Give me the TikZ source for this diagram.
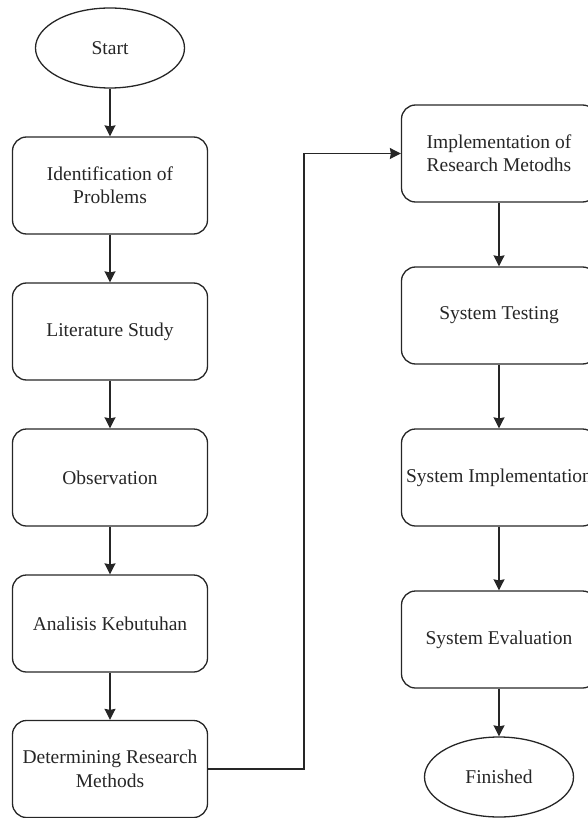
\documentclass[tikz,border=0pt]{standalone}
\usepackage{fontspec}
\setmainfont{Liberation Serif}
\usepackage{tikz}
\usetikzlibrary{shapes.geometric,arrows.meta}
\tikzset{
    stepbox/.style={
		draw=black!85, line width=1.3pt, rounded corners=14pt,
		minimum width=195pt, minimum height=97pt, align=center,
		font=\fontsize{19.5}{23.4}\selectfont, text=black!85
	}
}
\tikzset{
    terminal/.style={
		draw=black!85, line width=1.3pt, ellipse,
		minimum width=149pt, minimum height=80pt,
		font=\fontsize{19.5}{23.4}\selectfont, text=black!85
	}
}
\tikzset{
    flow/.style={draw=black!85, line width=1.3pt, -{Stealth[length=11pt,width=11pt,inset=1pt]}}
}
\begin{document}
\begin{tikzpicture}[x=1pt,y=-1pt]
        \useasboundingbox (0,0) rectangle (587,818);
        % left column
        \node[terminal] (start) at (110,48) {Start};
        \node[stepbox] (ident) at (110,185.5) {Identification of\\Problems};
        \node[stepbox] (lit) at (110,331.5) {Literature Study};
        \node[stepbox] (obs) at (110,477.5) {Observation};
        \node[stepbox] (anal) at (110,623.5) {Analisis Kebutuhan};
        \node[stepbox] (determ) at (110,769) {Determining Research\\Methods};
        % right column
        \node[stepbox] (implmeth) at (499,153.5) {Implementation of\\Research Metodhs};
        \node[stepbox] (testing) at (499,315.5) {System Testing};
        \node[stepbox] (implsys) at (499,477.5) {System Implementation};
        \node[stepbox] (eval) at (499,639.5) {System Evaluation};
        \node[terminal] (finish) at (499,777) {Finished};
        \coordinate (bend) at (304,769);
        \draw[flow] (start) -- (ident);
        \draw[flow] (ident) -- (lit);
        \draw[flow] (lit) -- (obs);
        \draw[flow] (obs) -- (anal);
        \draw[flow] (anal) -- (determ);
        \draw[flow] (determ.east) -- (bend) |- (implmeth.west);
        \draw[flow] (implmeth) -- (testing);
        \draw[flow] (testing) -- (implsys);
        \draw[flow] (implsys) -- (eval);
        \draw[flow] (eval) -- (finish);
\end{tikzpicture}
\end{document}
